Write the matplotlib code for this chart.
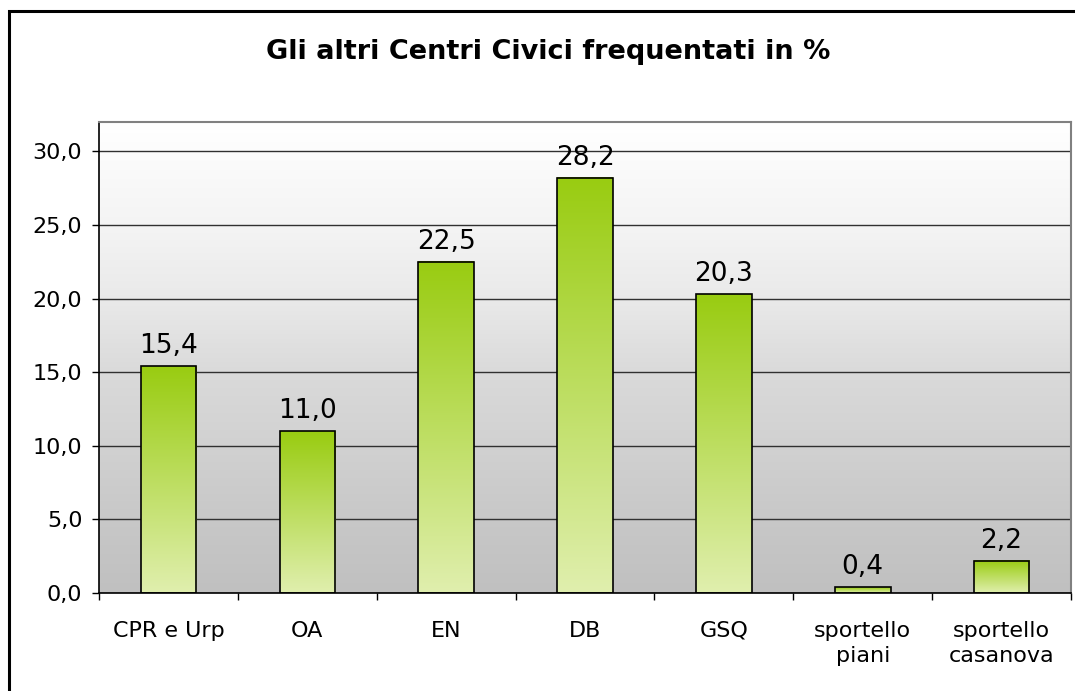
import matplotlib.pyplot as plt
import numpy as np
from matplotlib.colors import LinearSegmentedColormap
from matplotlib.patches import Rectangle

categories = ["CPR e Urp", "OA", "EN", "DB", "GSQ", "sportello\npiani", "sportello\ncasanova"]
values = [15.4, 11.0, 22.5, 28.2, 20.3, 0.4, 2.2]
yticks = [0, 5, 10, 15, 20, 25, 30]
title = "Gli altri Centri Civici frequentati in %"

fig = plt.figure(figsize=(10.75, 6.91), dpi=100)
ax = fig.add_axes([0.0921, 0.1418, 0.9042, 0.6816])

# outer frame (right/bottom fall outside the picture)
fig.patches.append(Rectangle((8.5 / 1075, -0.05), 1.2, 1 - 11.0 / 691 + 0.05,
                             transform=fig.transFigure, fill=False,
                             edgecolor="black", linewidth=2.2, zorder=10))

fig.text(0.51, 0.925, title, ha="center", va="center", fontsize=19.5,
         fontweight="bold")

ymax = 32
x = np.arange(len(categories))
ax.set_xlim(-0.5, len(categories) - 0.5)
ax.set_ylim(0, ymax)

# plot-area gradient: white at top to gray at bottom
bg = LinearSegmentedColormap.from_list(
    "bg", [(0, "#C0C0C0"), (0.16, "#C8C8C8"), (0.31, "#D1D1D1"),
           (0.47, "#DADADA"), (0.62, "#E9E9E9"), (0.78, "#F4F4F4"),
           (0.94, "#FCFCFC"), (1, "#FFFFFF")])
grad = np.linspace(0, 1, 256).reshape(-1, 1)
ax.imshow(grad, cmap=bg, origin="lower", aspect="auto",
          extent=[-0.5, len(categories) - 0.5, 0, ymax], zorder=0)

for t in yticks:
    ax.axhline(t, color="#303030", linewidth=1.0, zorder=1)

# bars with a vertical green gradient
bar_cmap = LinearSegmentedColormap.from_list("bar", ["#E0EFAE", "#99CC11"])
width = 0.40
bars = ax.bar(x, values, width=width, facecolor="none", edgecolor="black",
              linewidth=1.2, zorder=3)
for b, v in zip(bars, values):
    x0 = b.get_x()
    ax.imshow(grad, cmap=bar_cmap, origin="lower", aspect="auto",
              extent=[x0, x0 + width, 0, v], zorder=2)
    ax.annotate(f"{v:.1f}".replace(".", ","), (b.get_x() + width / 2, v),
                xytext=(0, 5), textcoords="offset points", ha="center",
                va="bottom", fontsize=19)
ax.set_xlim(-0.5, len(categories) - 0.5)
ax.set_ylim(0, ymax)

ax.set_yticks(yticks)
ax.set_yticklabels([f"{t:.1f}".replace(".", ",") for t in yticks], fontsize=16)
ax.tick_params(axis="y", length=5, width=1, pad=7)

ax.set_xticks(x)
ax.set_xticklabels(categories, fontsize=16, linespacing=1.3)
ax.tick_params(axis="x", length=0, pad=20)
ax.set_xticks(np.arange(len(categories) + 1) - 0.5, minor=True)
ax.tick_params(axis="x", which="minor", length=5, width=1)

for s in ["left", "bottom"]:
    ax.spines[s].set_color("black")
    ax.spines[s].set_linewidth(1.2)
for s in ["top", "right"]:
    ax.spines[s].set_color("#808080")
    ax.spines[s].set_linewidth(1.5)

fig.savefig("out.png", dpi=100)
